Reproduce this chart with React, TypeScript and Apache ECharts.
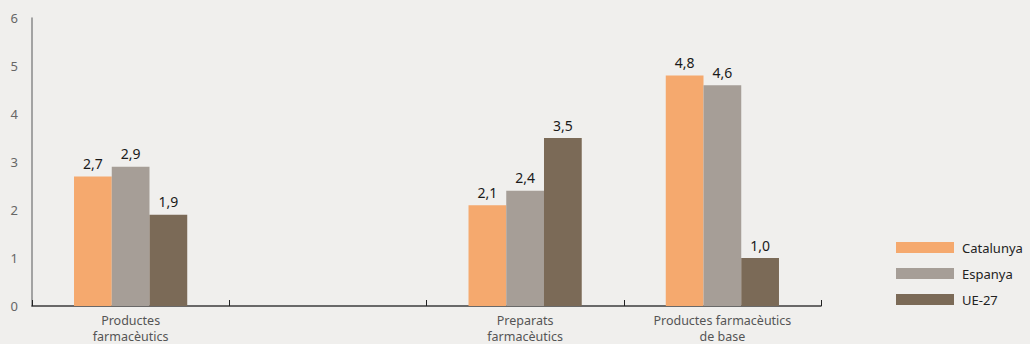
import React, { useEffect, useRef } from "react";
import * as echarts from "echarts";

const categories = ["Productes\nfarmacèutics", "", "Preparats\nfarmacèutics", "Productes farmacèutics\nde base"];
const catalunya = [2.7, null, 2.1, 4.8];
const espanya = [2.9, null, 2.4, 4.6];
const ue27 = [1.9, null, 3.5, 1.0];
const seriesNames = ["Catalunya", "Espanya", "UE-27"];
const colors = ["#f5a96e", "#a69e97", "#7b6a57"];
const yTicks = [0, 1, 2, 3, 4, 5, 6];

const FONT = "'Noto Sans', sans-serif";

export default function App() {
  const ref = useRef<HTMLDivElement>(null);
  useEffect(() => {
    if (!ref.current) return;
    const chart = echarts.init(ref.current, null, { renderer: "svg" });
    const data = [catalunya, espanya, ue27];
    chart.setOption({
      animation: false,
      backgroundColor: "#f0efed",
      textStyle: { fontFamily: FONT },
      grid: { left: 32, right: 209, top: 18, bottom: 38, containLabel: false },
      legend: {
        orient: "vertical",
        left: 891,
        top: 236,
        itemWidth: 58,
        itemHeight: 11,
        itemGap: 13,
        icon: "rect",
        textStyle: { fontFamily: FONT, fontSize: 13, color: "#222", padding: [0, 0, 0, 3] },
        data: seriesNames,
      },
      xAxis: {
        type: "category",
        data: categories,
        boundaryGap: true,
        axisLine: { lineStyle: { color: "#3d3d3d", width: 1.5 } },
        axisTick: { show: true, inside: true, length: 6, lineStyle: { color: "#222", width: 1 }, alignWithLabel: false },
        axisLabel: { fontFamily: FONT, fontSize: 12.5, color: "#555", lineHeight: 16, margin: 6, interval: 0 },
      },
      yAxis: {
        type: "value",
        min: yTicks[0],
        max: yTicks[yTicks.length - 1],
        interval: 1,
        splitLine: { show: false },
        axisLine: { show: true, lineStyle: { color: "#8a8a8a", width: 1.5 } },
        axisTick: { show: false },
        axisLabel: { fontFamily: FONT, fontSize: 13, color: "#666", margin: 14 },
      },
      series: seriesNames.map((name, i) => ({
        name,
        type: "bar",
        data: data[i],
        barGap: "0%",
        barCategoryGap: "42.6%",
        itemStyle: { color: colors[i] },
        label: {
          show: true,
          position: "top",
          distance: 6,
          fontFamily: FONT,
          fontSize: 14,
          color: "#1a1a1a",
          formatter: (p: any) => (p.value == null ? "" : Number(p.value).toFixed(1).replace(".", ",")),
        },
      })),
    });
    return () => chart.dispose();
  }, []);
  return (
    <div
      ref={ref}
      style={{ position: "fixed", left: 0, top: 0, width: 1030, height: 344, background: "#f0efed" }}
    />
  );
}
